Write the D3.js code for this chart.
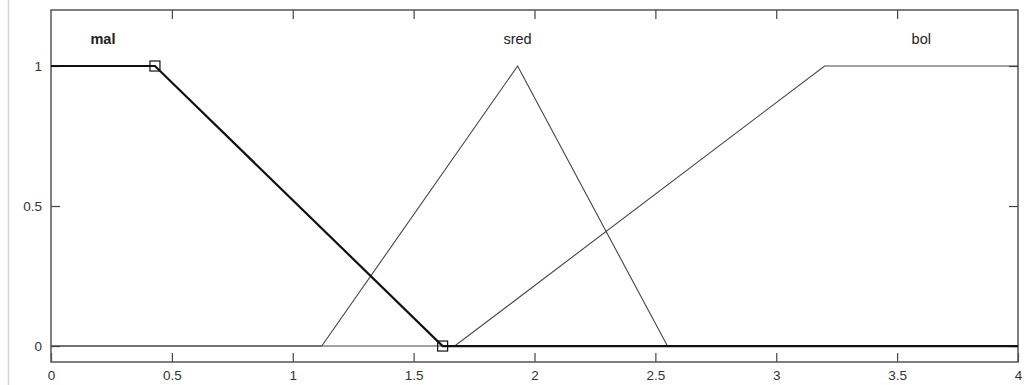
<!DOCTYPE html>
<html>
<head>
<meta charset="utf-8">
<script src="https://cdn.jsdelivr.net/npm/d3@7"></script>
<style>
  html, body { margin: 0; padding: 0; background: #fff; }
  svg { display: block; font-family: "Liberation Sans", Arial, sans-serif; }
</style>
</head>
<body>
<svg id="chart" width="1031" height="385"></svg>
<script>
// Membership functions of the input variable on [0, 4]
const mfNames = ["mal", "sred", "bol"];
const mfXs = [
  [0, 0.43, 1.62, 4],        // mal: trapezoid, open on the left
  [0, 1.12, 1.93, 2.55, 4],  // sred: triangle
  [0, 1.67, 3.2, 4]          // bol: trapezoid, open on the right
];
const mfYs = [
  [1, 1, 0, 0],
  [0, 0, 1, 0, 0],
  [0, 0, 1, 1]
];
const labelX = [0.215, 1.93, 3.6];   // where each name is written
const selected = 0;                   // mal is the highlighted function
const xTicks = [0, 0.5, 1, 1.5, 2, 2.5, 3, 3.5, 4];
const yTicks = [0, 0.5, 1];

const svg = d3.select("#chart");
const pLeft = 51, pRight = 1018, pTop = 10, pBottom = 362;

const x = d3.scaleLinear().domain([0, 4]).range([pLeft, pRight]);
const y = d3.scaleLinear().domain([-0.057, 1.2]).range([pBottom, pTop]);

// faint separator on the far left
svg.append("line")
  .attr("x1", 8.5).attr("x2", 8.5).attr("y1", 0).attr("y2", 385)
  .attr("stroke", "#d4d4d4").attr("stroke-width", 1.5);

// tick marks inside the frame on all four sides
const tickLen = 9;
const axisColor = "#444";
const fmt = d => String(d);

const xb = d3.axisBottom(x).tickValues(xTicks).tickSizeInner(-tickLen).tickSizeOuter(0).tickFormat(fmt).tickPadding(8);
const xt = d3.axisTop(x).tickValues(xTicks.slice(1, -1)).tickSizeInner(-tickLen).tickSizeOuter(0).tickFormat("");
const yl = d3.axisLeft(y).tickValues(yTicks).tickSizeInner(-tickLen).tickSizeOuter(0).tickFormat(fmt).tickPadding(9);
const yr = d3.axisRight(y).tickValues(yTicks).tickSizeInner(-tickLen).tickSizeOuter(0).tickFormat("");

function styleAxis(g) {
  g.select(".domain").remove();
  g.selectAll(".tick line").attr("stroke", axisColor).attr("stroke-width", 1.2);
  g.selectAll(".tick text").attr("fill", "#333").attr("font-size", 13.5)
    .attr("font-family", "Liberation Sans, Arial, sans-serif");
}
svg.append("g").attr("transform", `translate(0,${pBottom})`).call(xb).call(styleAxis);
svg.append("g").attr("transform", `translate(0,${pTop})`).call(xt).call(styleAxis);
svg.append("g").attr("transform", `translate(${pLeft},0)`).call(yl).call(styleAxis);
svg.append("g").attr("transform", `translate(${pRight},0)`).call(yr).call(styleAxis);

// plot frame
svg.append("rect")
  .attr("x", pLeft).attr("y", pTop)
  .attr("width", pRight - pLeft).attr("height", pBottom - pTop)
  .attr("fill", "none").attr("stroke", "#555").attr("stroke-width", 1.5);

// membership function curves
const line = d3.line().x(d => x(d[0])).y(d => y(d[1]));
const order = mfNames.map((_, i) => i).filter(i => i !== selected).concat([selected]);
order.forEach(i => {
  const pts = mfXs[i].map((v, k) => [v, mfYs[i][k]]);
  svg.append("path")
    .attr("d", line(pts))
    .attr("fill", "none")
    .attr("stroke", i === selected ? "#111" : "#444")
    .attr("stroke-width", i === selected ? 2.2 : 1.1);
});

// square handles on the selected function's corner points
const handles = mfXs[selected].map((v, k) => [v, mfYs[selected][k]])
  .filter((d, k) => k > 0 && k < mfXs[selected].length - 1);
svg.selectAll("rect.handle").data(handles).enter().append("rect")
  .attr("class", "handle")
  .attr("x", d => x(d[0]) - 5).attr("y", d => y(d[1]) - 5)
  .attr("width", 10).attr("height", 10)
  .attr("fill", "none").attr("stroke", "#111").attr("stroke-width", 1.2);

// function names
svg.selectAll("text.mfname").data(mfNames).enter().append("text")
  .attr("class", "mfname")
  .attr("x", (d, i) => x(labelX[i])).attr("y", 44)
  .attr("text-anchor", "middle")
  .attr("font-size", 14.5)
  .attr("font-weight", (d, i) => i === selected ? "bold" : "normal")
  .attr("fill", "#222")
  .text(d => d);
</script>
</body>
</html>
